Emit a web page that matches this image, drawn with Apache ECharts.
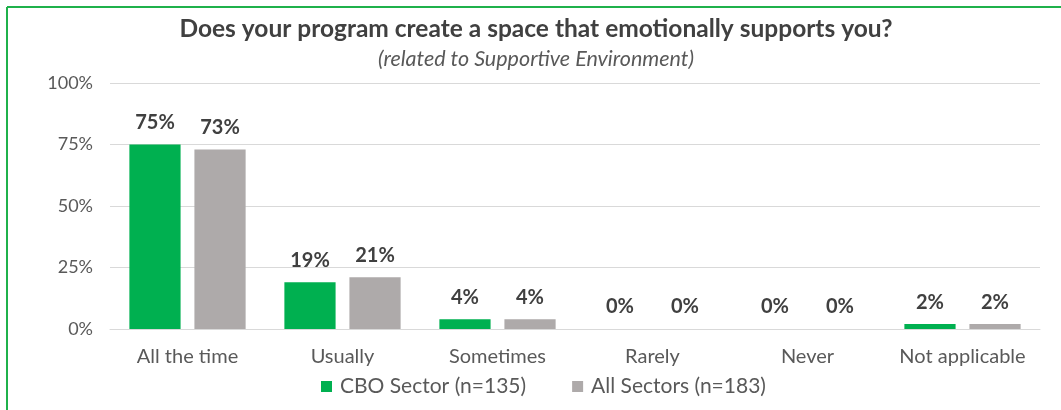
<!DOCTYPE html>
<html>
<head>
<meta charset="utf-8">
<script src="https://cdn.jsdelivr.net/npm/echarts@6/dist/echarts.min.js"></script>
<style>
  html, body { margin: 0; padding: 0; background: #ffffff; }
  #chart { width: 1061px; height: 410px; }
</style>
</head>
<body>
<div id="chart"></div>
<script>
// Survey answers and percentage shares per group
const categories = ['All the time', 'Usually', 'Sometimes', 'Rarely', 'Never', 'Not applicable'];
const cboSector = [75, 19, 4, 0, 0, 2];
const allSectors = [73, 21, 4, 0, 0, 2];
const seriesNames = ['CBO Sector (n=135)', 'All Sectors (n=183)'];
const yTicks = [0, 25, 50, 75, 100];

const FONT = 'Lato, "Open Sans", sans-serif';
const chart = echarts.init(document.getElementById('chart'), null, { renderer: 'canvas' });

const valueLabel = {
  show: true,
  position: 'top',
  distance: 12,
  formatter: p => p.value + '%',
  fontFamily: FONT,
  fontWeight: 'bold',
  fontSize: 20,
  color: '#404040'
};

chart.setOption({
  animation: false,
  backgroundColor: '#ffffff',
  title: {
    text: 'Does your program create a space that emotionally supports you?',
    subtext: '(related to Supportive Environment)',
    left: 531,
    textAlign: 'center',
    top: 12,
    itemGap: 6,
    textStyle: { fontFamily: FONT, fontWeight: 'bold', fontSize: 24.5, color: '#404040' },
    subtextStyle: { fontFamily: FONT, fontStyle: 'italic', fontSize: 21.5, color: '#595959' }
  },
  legend: {
    data: seriesNames,
    left: 316,
    top: 371,
    icon: 'rect',
    itemWidth: 11,
    itemHeight: 11,
    itemGap: 46,
    textStyle: { fontFamily: FONT, fontSize: 21, color: '#595959', padding: [0, 0, 0, 3] }
  },
  grid: { left: 110, right: 21, top: 83, bottom: 81, containLabel: false },
  xAxis: {
    type: 'category',
    data: categories,
    axisLine: { lineStyle: { color: '#d9d9d9', width: 1 } },
    axisTick: { show: false },
    axisLabel: { interval: 0, margin: 18, fontFamily: FONT, fontSize: 20, color: '#595959' }
  },
  yAxis: {
    type: 'value',
    min: yTicks[0],
    max: yTicks[yTicks.length - 1],
    interval: yTicks[1] - yTicks[0],
    axisLine: { show: false },
    axisTick: { show: false },
    axisLabel: { margin: 17, formatter: '{value}%', fontFamily: FONT, fontSize: 18, color: '#595959' },
    splitLine: { lineStyle: { color: '#d9d9d9', width: 1 } }
  },
  graphic: [
    { type: 'line', shape: { x1: 7, y1: 7, x2: 1061, y2: 7 }, style: { stroke: '#1fb14b', lineWidth: 2 } },
    { type: 'line', shape: { x1: 7, y1: 7, x2: 7, y2: 410 }, style: { stroke: '#1fb14b', lineWidth: 2 } }
  ],
  series: [
    {
      name: seriesNames[0],
      type: 'bar',
      data: cboSector,
      itemStyle: { color: '#00b050' },
      barGap: '27%',
      barCategoryGap: '25%',
      label: valueLabel
    },
    {
      name: seriesNames[1],
      type: 'bar',
      data: allSectors,
      itemStyle: { color: '#aeaaaa' },
      label: valueLabel
    }
  ]
});
</script>
</body>
</html>
